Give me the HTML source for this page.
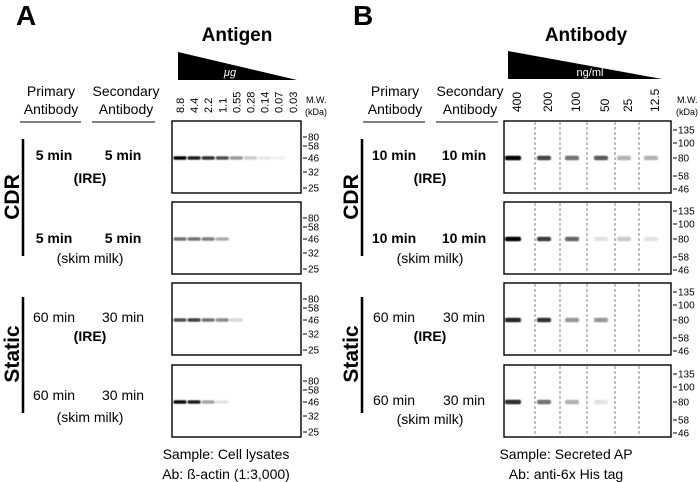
<!DOCTYPE html>
<html><head><meta charset="utf-8"><style>
html,body{margin:0;padding:0;background:#fff;}
svg{display:block;font-family:"Liberation Sans",sans-serif;}
</style></head><body>
<svg id="fig" width="700" height="482" viewBox="0 0 700 482" xmlns="http://www.w3.org/2000/svg">
<defs><filter id="blur" x="-50%" y="-200%" width="200%" height="500%"><feGaussianBlur stdDeviation="0.7 0.5"/></filter></defs>
<!-- Panel A -->
<text x="16" y="25" font-size="28" font-weight="bold">A</text>
<text x="237" y="41" font-size="19" font-weight="bold" text-anchor="middle">Antigen</text>
<polygon points="178,52 297,80 178,80" fill="#000"/>
<text x="230" y="76" font-size="11" font-style="italic" fill="#fff" text-anchor="middle">μg</text>
<g font-size="14" text-anchor="middle">
<text x="51" y="96">Primary</text><text x="51" y="114">Antibody</text>
<text x="126" y="96">Secondary</text><text x="126" y="114">Antibody</text>
</g>
<line x1="20" y1="122" x2="81" y2="122" stroke="#000" stroke-width="1"/>
<line x1="92" y1="122" x2="155" y2="122" stroke="#000" stroke-width="1"/>
<line x1="23" y1="139" x2="23" y2="256" stroke="#000" stroke-width="2.5"/>
<line x1="23" y1="297" x2="23" y2="413" stroke="#000" stroke-width="2.5"/>
<text transform="translate(19,197) rotate(-90)" font-size="21" font-weight="bold" text-anchor="middle">CDR</text>
<text transform="translate(19,354) rotate(-90)" font-size="21" font-weight="bold" text-anchor="middle">Static</text>
<g font-size="14" text-anchor="middle">
<text x="54" y="160" font-weight="bold">5 min</text><text x="123" y="160" font-weight="bold">5 min</text><text x="90" y="183" font-weight="bold">(IRE)</text>
<text x="54" y="243" font-weight="bold">5 min</text><text x="123" y="243" font-weight="bold">5 min</text><text x="90" y="263">(skim milk)</text>
<text x="54" y="322">60 min</text><text x="123" y="322">30 min</text><text x="90" y="341" font-weight="bold">(IRE)</text>
<text x="54" y="400">60 min</text><text x="123" y="400">30 min</text><text x="90" y="422">(skim milk)</text>
</g>
<g font-size="14" text-anchor="middle">
<text x="226" y="459">Sample: Cell lysates</text><text x="226" y="479">Ab: ß-actin (1:3,000)</text>
</g>
<!-- Panel B -->
<text x="353" y="25" font-size="28" font-weight="bold">B</text>
<text x="586" y="41" font-size="19" font-weight="bold" text-anchor="middle">Antibody</text>
<polygon points="508,51 662,79 508,79" fill="#000"/>
<text x="590" y="76" font-size="11" fill="#fff" text-anchor="middle">ng/ml</text>
<g font-size="14" text-anchor="middle">
<text x="395" y="96">Primary</text><text x="395" y="114">Antibody</text>
<text x="470" y="96">Secondary</text><text x="470" y="114">Antibody</text>
</g>
<line x1="363" y1="122" x2="425" y2="122" stroke="#000" stroke-width="1"/>
<line x1="436" y1="122" x2="498" y2="122" stroke="#000" stroke-width="1"/>
<line x1="362" y1="139" x2="362" y2="256" stroke="#000" stroke-width="2.5"/>
<line x1="362" y1="297" x2="362" y2="413" stroke="#000" stroke-width="2.5"/>
<text transform="translate(358,197) rotate(-90)" font-size="21" font-weight="bold" text-anchor="middle">CDR</text>
<text transform="translate(358,354) rotate(-90)" font-size="21" font-weight="bold" text-anchor="middle">Static</text>
<g font-size="14" text-anchor="middle">
<text x="394" y="160" font-weight="bold">10 min</text><text x="464" y="160" font-weight="bold">10 min</text><text x="430" y="183" font-weight="bold">(IRE)</text>
<text x="394" y="243" font-weight="bold">10 min</text><text x="464" y="243" font-weight="bold">10 min</text><text x="430" y="263">(skim milk)</text>
<text x="394" y="322">60 min</text><text x="464" y="322">30 min</text><text x="430" y="341" font-weight="bold">(IRE)</text>
<text x="394" y="405">60 min</text><text x="464" y="405">30 min</text><text x="430" y="424">(skim milk)</text>
</g>
<g font-size="14" text-anchor="middle">
<text x="566" y="459">Sample: Secreted AP</text><text x="566" y="479">Ab: anti-6x His tag</text>
</g>
</svg>
<script>
const lanesA = ["8.8","4.4","2.2","1.1","0.55","0.28","0.14","0.07","0.03"];
const lanesB = ["400","200","100","50","25","12.5"];
const mwA = ["80","58","46","32","25"];
const mwB = ["135","100","80","58","46"];
const bandsA = [
 [1,0.85,0.75,0.6,0.3,0.12,0.04,0.02,0],
 [0.45,0.45,0.4,0.22,0,0,0,0,0],
 [0.6,0.7,0.45,0.35,0.08,0,0,0,0],
 [0.95,0.85,0.25,0.05,0,0,0,0,0]
];
const bandsB = [
 [1,0.65,0.45,0.55,0.2,0.2],
 [1,0.7,0.5,0.05,0.12,0.05],
 [0.8,0.75,0.3,0.3,0,0],
 [0.75,0.45,0.2,0.05,0,0]
];
const NS="http://www.w3.org/2000/svg";
const svg=document.getElementById('fig');
function mk(tag,attrs){const e=document.createElementNS(NS,tag);for(const k in attrs)e.setAttribute(k,attrs[k]);svg.appendChild(e);return e;}
const blotTops=[121,202,283,365], blotH=72;
const aX0=172,aX1=301;
const laneXA=i=>180+i*14.1;
const mwYA=[16,25,37,51,67];
const bandYA=37;
const bX0=504,bX1=671;
const laneXB=i=>[513,544,572,601,624,651][i];
const dashB=[535,560,587,615,639];
const mwYB=[9,22,37,55,68];
const bandYB=37;
const dark=v=>Math.min(1,Math.pow(v,0.75));
lanesA.forEach((l,i)=>{
 const t=mk('text',{transform:`translate(${laneXA(i)+4},113) rotate(-90)`,'font-size':'11'});
 t.textContent=l;
 
 
});
lanesB.forEach((l,i)=>{
 const t=mk('text',{transform:`translate(${laneXB(i)+8},112) rotate(-90)`,'font-size':'12'});
 t.textContent=l;
 
 
});
[[306,'A'],[677,'B']].forEach(([x,p])=>{
 const t1=mk('text',{x:x,y:103,'font-size':'9'});t1.textContent='M.W.';
 
 
 const t2=mk('text',{x:x-1,y:115,'font-size':'9'});t2.textContent='(kDa)';
 
 
});
blotTops.forEach((top,r)=>{
 const bA=mk('rect',{x:aX0,y:top,width:aX1-aX0,height:blotH,fill:'#fff',stroke:'#000','stroke-width':1.4});
 
 
 bandsA[r].forEach((v,i)=>{
  if(v<=0)return;
  const b=mk('rect',{x:laneXA(i)-6.5,y:top+bandYA-1.7,width:13,height:3.4,rx:1.5,fill:'#000',opacity:dark(v),filter:'url(#blur)'});
  
  
 });
 mwA.forEach((m,k)=>{
  const y=top+mwYA[k];
  const tk=mk('line',{x1:aX1+2,y1:y,x2:aX1+6,y2:y,stroke:'#000','stroke-width':1});
  
  
  const t=mk('text',{x:aX1+7,y:y+3.5,'font-size':'10'});t.textContent=m;
  
  
 });
 const bB=mk('rect',{x:bX0,y:top,width:bX1-bX0,height:blotH,fill:'#fff',stroke:'#000','stroke-width':1.4});
 
 
 dashB.forEach(x=>{
  const d=mk('line',{x1:x,y1:top+1,x2:x,y2:top+blotH-1,stroke:'#333','stroke-width':0.6,'stroke-dasharray':'3,2'});
  
  
 });
 bandsB[r].forEach((v,i)=>{
  if(v<=0)return;
  const w=i===0?16:14;
  const b=mk('rect',{x:laneXB(i)-w/2,y:top+bandYB-2.3,width:w,height:4.6,rx:1.8,fill:'#000',opacity:dark(v),filter:'url(#blur)'});
  
  
 });
 mwB.forEach((m,k)=>{
  const y=top+mwYB[k];
  const tk=mk('line',{x1:bX1+2,y1:y,x2:bX1+6,y2:y,stroke:'#000','stroke-width':1});
  
  
  const t=mk('text',{x:bX1+7,y:y+3.5,'font-size':'10'});t.textContent=m;
  
  
 });
});
</script>
</body></html>
